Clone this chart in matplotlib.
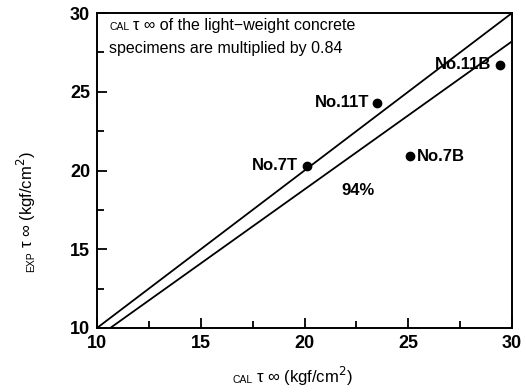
import numpy as np
import matplotlib
matplotlib.use("Agg")
import matplotlib.pyplot as plt
from matplotlib.ticker import MultipleLocator

plt.rcParams['font.family'] = ['Liberation Sans', 'DejaVu Sans']

# data
names = ["No.7T", "No.11T", "No.7B", "No.11B"]
cal = [20.1, 23.5, 25.1, 29.4]
exp = [20.3, 24.3, 20.9, 26.7]
label_side = ["left", "left", "right", "left"]
ratio = 0.94
ratio_label = "94%"
xlim = (10, 30)
ylim = (10, 30)

fig = plt.figure(figsize=(5.26, 3.92), dpi=100)
ax = fig.add_axes([0.1844, 0.1633, 0.789, 0.8035])

# 1:1 line and 94% line
xl = np.array([xlim[0], xlim[1]])
ax.plot(xl, xl, color='black', lw=1.3)
ax.plot(xl, ratio * xl, color='black', lw=1.3)

ax.plot(cal, exp, 'o', color='black', ms=6)
for n, x, y, s in zip(names, cal, exp, label_side):
    if s == "left":
        ax.annotate(n, (x, y), xytext=(-6, 0), textcoords='offset points',
                    ha='right', va='center', fontsize=12, fontweight='bold')
    else:
        ax.annotate(n, (x, y), xytext=(5, 0), textcoords='offset points',
                    ha='left', va='center', fontsize=12, fontweight='bold')

ax.text(22.6, 18.7, ratio_label, ha='center', va='center', fontsize=12, fontweight='bold')

# note in the upper-left corner
ax.text(10.6, 28.9, "CAL", fontsize=7.5, va='baseline', ha='left')
ax.text(11.75, 28.9, "τ ∞ of the light−weight concrete", fontsize=11.5,
        va='baseline', ha='left')
ax.text(10.6, 27.45, "specimens are multiplied by 0.84", fontsize=11.5,
        va='baseline', ha='left')

ax.set_xlim(*xlim)
ax.set_ylim(*ylim)
ax.xaxis.set_major_locator(MultipleLocator(5))
ax.yaxis.set_major_locator(MultipleLocator(5))
ax.xaxis.set_minor_locator(MultipleLocator(2.5))
ax.yaxis.set_minor_locator(MultipleLocator(2.5))
ax.tick_params(which='major', direction='in', length=7, width=1.3,
               labelsize=13, top=False, right=False, pad=5)
ax.tick_params(which='minor', direction='in', length=5, width=1.3,
               top=False, right=False)
for lab in ax.get_xticklabels() + ax.get_yticklabels():
    lab.set_fontweight('bold')
for sp in ax.spines.values():
    sp.set_linewidth(1.4)

# composite axis labels: small "CAL"/"EXP" prefix + main label
fig.text(0.487, 0.022, "τ ∞ (kgf/cm$^2$)", fontsize=12, ha='left', va='baseline')
fig.text(0.481, 0.022, "CAL", fontsize=7.5, ha='right', va='baseline')
fig.text(0.072, 0.367, "τ ∞ (kgf/cm$^2$)", fontsize=12, ha='right', va='bottom',
         rotation=90)
fig.text(0.069, 0.359, "EXP", fontsize=7.5, ha='right', va='top', rotation=90)

fig.savefig("out.png", dpi=100)
